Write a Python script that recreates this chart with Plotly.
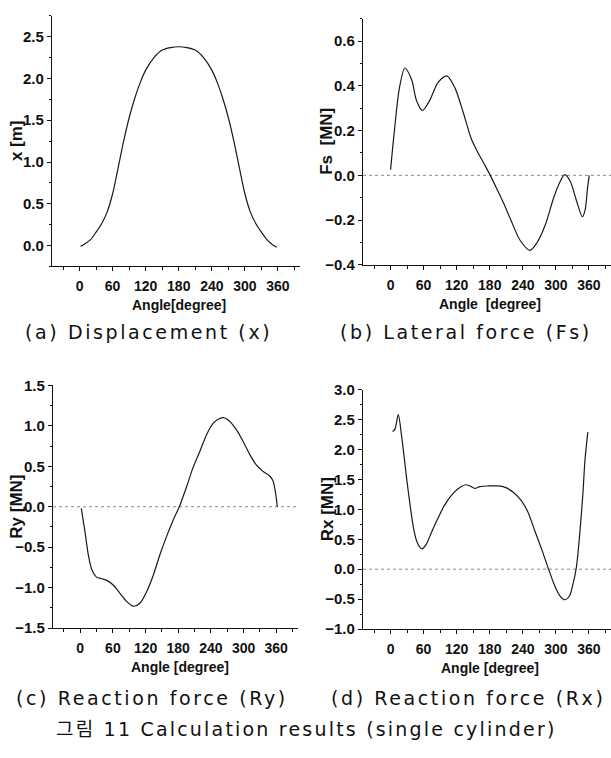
import plotly.graph_objects as go

# ---- data -------------------------------------------------------------
# (a) piston displacement x [m] vs crank angle
disp_angle = [2, 10, 20, 30, 40, 50, 60, 70, 80, 90, 100, 110, 120, 135, 150, 165, 180,
              195, 210, 225, 240, 250, 260, 270, 280, 290, 300, 310, 320, 330, 340, 350, 358]
disp_x = [-0.01, 0.02, 0.07, 0.16, 0.26, 0.40, 0.62, 0.93, 1.25, 1.53, 1.76, 1.95, 2.10, 2.25, 2.34, 2.37, 2.38,
          2.37, 2.34, 2.25, 2.10, 1.95, 1.76, 1.53, 1.25, 0.93, 0.62, 0.40, 0.26, 0.16, 0.07, 0.01, -0.02]

# (b) lateral force Fs [MN]
fs_angle = [0, 7, 16, 26, 38, 47, 58, 71, 86, 102, 117, 132, 147, 159, 171, 181, 196, 208, 220, 235,
            253, 266, 281, 296, 308, 316, 326, 337, 348, 353, 357.5, 360.5]
fs_val = [0.025, 0.20, 0.39, 0.48, 0.43, 0.335, 0.29, 0.335, 0.415, 0.445, 0.39, 0.28, 0.16, 0.10, 0.046, 0.0, -0.077, -0.14, -0.21, -0.29,
          -0.335, -0.30, -0.22, -0.10, -0.026, 0.003, -0.026, -0.11, -0.185, -0.155, -0.055, 0.0]

# (c) reaction force Ry [MN]
ry_angle = [2, 9, 15, 21, 30, 40, 49, 61, 73, 85, 98, 110, 122, 134, 146, 159, 171, 182, 195, 207,
            220, 232, 244, 256, 264, 274, 287, 299, 311, 323, 335, 348, 354, 359, 362]
ry_val = [-0.02, -0.32, -0.60, -0.77, -0.87, -0.89, -0.91, -0.97, -1.07, -1.17, -1.23, -1.19, -1.05, -0.85, -0.60, -0.36, -0.16, 0.0, 0.24, 0.48,
          0.69, 0.89, 1.03, 1.09, 1.10, 1.06, 0.95, 0.81, 0.65, 0.52, 0.44, 0.38, 0.32, 0.16, 0.0]

# (d) reaction force Rx [MN]
rx_angle = [3.6, 8, 14, 20, 25, 29, 35, 41, 47, 53, 57, 65, 74, 86, 98, 110, 122, 136, 144, 153,
            162, 177, 195, 207, 222, 237, 249, 261, 274, 286, 298, 307, 316, 325, 331, 337, 343, 349, 353, 358]
rx_val = [2.30, 2.34, 2.58, 2.23, 1.85, 1.53, 1.10, 0.72, 0.48, 0.37, 0.34, 0.42, 0.61, 0.85, 1.07, 1.23, 1.34, 1.41, 1.39, 1.35,
          1.38, 1.39, 1.39, 1.37, 1.29, 1.15, 0.96, 0.66, 0.34, 0.02, -0.28, -0.44, -0.51, -0.44, -0.25, 0.02, 0.56, 1.26, 1.85, 2.29]

angle_ticks = [0, 60, 120, 180, 240, 300, 360]
angle_minor = [-30, 30, 90, 150, 210, 270, 330, 390]

panels = [
    # key, angles, values, y-range, y-tick step, y title, x title, caption
    ("a", disp_angle, disp_x, [-0.25, 2.75], 0.5, "x [m]", "Angle[degree]", "(a) Displacement (x)"),
    ("b", fs_angle, fs_val, [-0.4, 0.7], 0.2, "Fs  [MN]", "Angle  [degree]", "(b) Lateral force (Fs)"),
    ("c", ry_angle, ry_val, [-1.5, 1.5], 0.5, "Ry [MN]", "Angle [degree]", "(c) Reaction force (Ry)"),
    ("d", rx_angle, rx_val, [-1.0, 3.0], 0.5, "Rx [MN]", "Angle [degree]", "(d) Reaction force (Rx)"),
]

W, H = 611, 758
# plot-area boxes in pixels: left, right, top, bottom
boxes = {
    "a": (52, 300, 7, 263.3),
    "b": (363, 611, 10, 261.7),
    "c": (53, 298, 385, 633.3),
    "d": (363, 611, 389.3, 634.3),
}
zero_line = {"a": False, "b": True, "c": True, "d": True}
caption_pos = {"a": (148, 330), "b": (466, 330), "c": (152, 705), "d": (468, 705)}

base = "Liberation Sans, Arial, sans-serif"
xtick_font = dict(family=base, size=14, color="#111", weight="bold")
ytick_font = dict(family=base, size=15, color="#111", weight="bold")
ytitle_font = dict(family=base, size=17, color="#111", weight="bold")
cap_font = dict(family="DejaVu Sans, Noto Sans CJK KR, sans-serif", size=19, color="#111")


def spaced(s, px):
    return '<span style="letter-spacing:%gpx">%s</span>' % (px, s)


fig = go.Figure()
shapes, annotations = [], []

for i, (key, ang, val, yr, ystep, ytitle, xtitle, caption) in enumerate(panels):
    n = "" if i == 0 else str(i + 1)
    xa, ya = "x" + n, "y" + n
    l, r, t, b = boxes[key]
    xdom = [l / W, r / W]
    ydom = [1 - b / H, 1 - t / H]

    fig.add_trace(go.Scatter(x=ang, y=val, mode="lines", xaxis=xa, yaxis=ya,
                             line=dict(color="#1a1a1a", width=1.2, shape="spline", smoothing=0.8),
                             showlegend=False, hoverinfo="skip"))

    common = dict(showgrid=False, zeroline=False, showline=True, linecolor="#111", linewidth=1.2,
                  ticks="outside", ticklen=4, tickwidth=1, tickcolor="#111")
    fig.update_layout({
        "xaxis" + n: dict(domain=xdom, anchor=ya, range=[-50, 400], tickmode="array",
                          tickvals=angle_ticks, ticktext=[str(v) for v in angle_ticks],
                          ticklabelstandoff=3, tickfont=xtick_font,
                          minor=dict(tickmode="array", tickvals=angle_minor,
                                     ticks="outside", ticklen=3, tickcolor="#111"),
                          **common),
        "yaxis" + n: dict(domain=ydom, anchor=xa, range=yr, dtick=ystep, tick0=0,
                          tickformat=".1f", ticklabelstandoff=0, tickfont=ytick_font,
                          minor=dict(dtick=ystep / 2, ticks="outside", ticklen=2, tickcolor="#111"),
                          **common),
    })

    if zero_line[key]:
        shapes.append(dict(type="line", xref=xa + " domain", x0=0, x1=1, yref=ya, y0=0, y1=0,
                           line=dict(color="#888", width=1, dash="dot"), layer="below"))

    # y-axis title
    annotations.append(dict(text=ytitle, xref="paper", yref="paper", x=(l - 36) / W,
                            y=1 - (t + b) / 2 / H, textangle=-90, showarrow=False,
                            font=ytitle_font, xanchor="center", yanchor="middle"))
    # x-axis title
    annotations.append(dict(text=xtitle, xref="paper", yref="paper", x=(l + 127) / W,
                            y=1 - (b + 40) / H, showarrow=False, font=xtick_font,
                            xanchor="center", yanchor="middle"))
    # caption under each panel
    cx, cy = caption_pos[key]
    annotations.append(dict(text=spaced(caption, 2.6), xref="paper", yref="paper", x=cx / W, y=1 - cy / H,
                            showarrow=False, font=cap_font, xanchor="center", yanchor="middle"))

annotations.append(dict(text=spaced("그림 11 Calculation results (single cylinder)", 2.2),
                        xref="paper", yref="paper", x=306 / W, y=1 - 737 / H, showarrow=False,
                        font=cap_font, xanchor="center", yanchor="middle"))

fig.update_layout(width=W, height=H, margin=dict(l=0, r=0, t=0, b=0),
                  paper_bgcolor="white", plot_bgcolor="white",
                  shapes=shapes, annotations=annotations)

fig.write_html("out.html")
